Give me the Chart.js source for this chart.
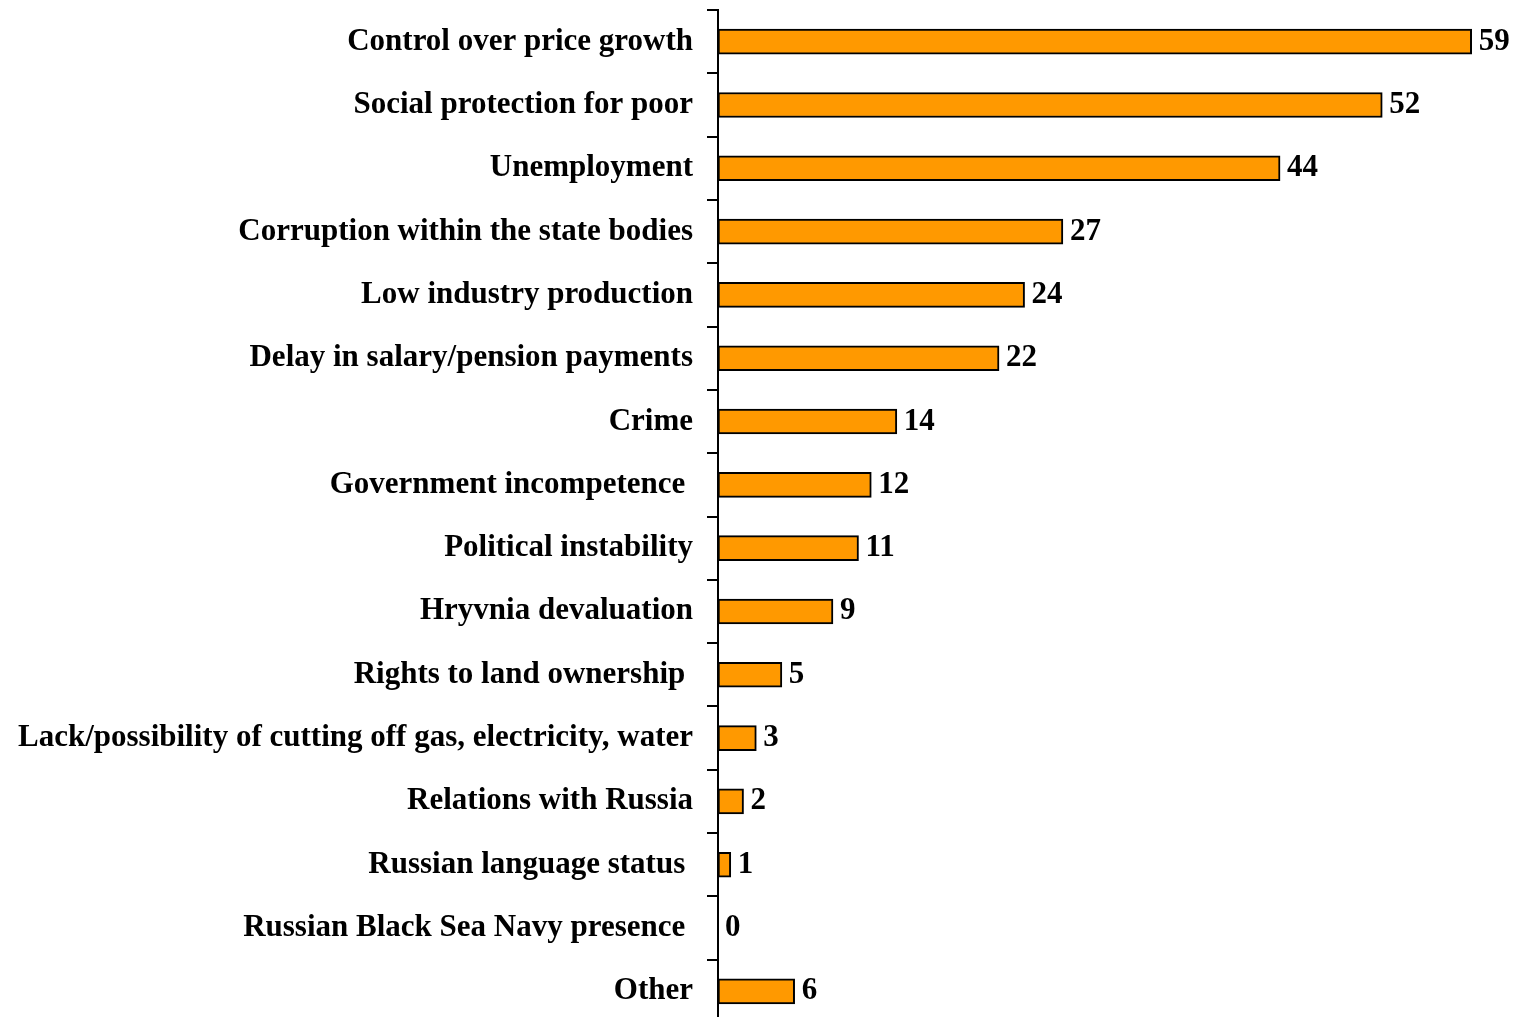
<!DOCTYPE html>
<html>
<head>
<meta charset="utf-8">
<script src="https://cdn.jsdelivr.net/npm/chart.js@4/dist/chart.umd.min.js"></script>
<style>
html,body{margin:0;padding:0;background:#fff;overflow:hidden;}
#wrap{position:relative;width:1519px;height:1023px;}
</style>
</head>
<body>
<div id="wrap"><canvas id="c"></canvas></div>
<script>
const categories = [
  "Control over price growth",
  "Social protection for poor",
  "Unemployment",
  "Corruption within the state bodies",
  "Low industry production",
  "Delay in salary/pension payments",
  "Crime",
  "Government incompetence ",
  "Political instability",
  "Hryvnia devaluation",
  "Rights to land ownership ",
  "Lack/possibility of cutting off gas, electricity, water",
  "Relations with Russia",
  "Russian language status ",
  "Russian Black Sea Navy presence ",
  "Other"
];
const values = [59, 52, 44, 27, 24, 22, 14, 12, 11, 9, 5, 3, 2, 1, 0, 6];
const xMin = 0;
const xMax = 62;

const FONT = "'Liberation Serif', 'Times New Roman', serif";

const valueLabels = {
  id: 'valueLabels',
  afterDatasetsDraw(chart) {
    const ctx = chart.ctx;
    const meta = chart.getDatasetMeta(0);
    ctx.save();
    ctx.font = "bold 31px " + FONT;
    ctx.fillStyle = '#000';
    ctx.textAlign = 'left';
    ctx.textBaseline = 'middle';
    meta.data.forEach((bar, i) => {
      ctx.fillText(String(values[i]), bar.x + 7, bar.y);
    });
    ctx.restore();
  }
};

new Chart(document.getElementById('c'), {
  type: 'bar',
  data: {
    labels: categories,
    datasets: [{
      data: values,
      backgroundColor: '#FF9900',
      borderColor: '#000',
      borderWidth: 2,
      borderSkipped: false,
      barThickness: 25
    }]
  },
  options: {
    indexAxis: 'y',
    responsive: true,
    maintainAspectRatio: false,
    animation: false,
    layout: { padding: { top: 10, right: 9, bottom: 0, left: 0 } },
    plugins: { legend: { display: false }, tooltip: { enabled: false } },
    scales: {
      x: {
        display: false,
        min: xMin,
        max: xMax
      },
      y: {
        afterFit(scale) { scale.width = 718; scale.paddingTop = 0; scale.paddingBottom = 0; },
        border: { display: true, color: '#000', width: 2 },
        grid: { display: true, drawOnChartArea: false, drawTicks: true, tickLength: 11, color: '#000', lineWidth: 2, offset: true },
        ticks: {
          color: '#000',
          padding: 14,
          autoSkip: false,
          font: { family: FONT, size: 31, weight: 'bold' }
        }
      }
    }
  },
  plugins: [valueLabels]
});
</script>
</body>
</html>
